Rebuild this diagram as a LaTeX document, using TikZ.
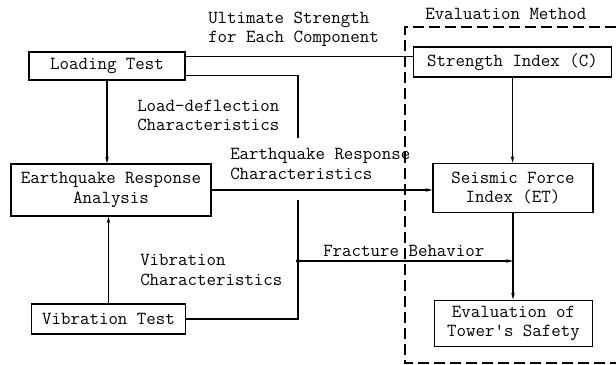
\documentclass[tikz,border=0pt]{standalone}
\usepackage{fontspec}
\usetikzlibrary{positioning, arrows.meta, calc}

\tikzset{
  block/.style={draw, line width=0.9pt, rectangle, align=center, inner sep=0pt},
  flow/.style={line width=0.9pt},
  flowarrow/.style={flow, -{Stealth[length=5pt,width=2.6pt]}},
  lbl/.style={anchor=west, align=left, inner sep=0pt}
}

\begin{document}
\begin{tikzpicture}[x=0.75pt, y=-0.75pt, font=\ttfamily\fontsize{13.8}{14.3}\selectfont]
            \useasboundingbox (0,0) rectangle (616,364);

            % Blocks of the left column (tests and analysis)
            \node[block, minimum width=117pt, minimum height=21pt] (loading) at (107,66) {Loading Test};
            \node[block, minimum width=150pt, minimum height=39pt] (earthquake) at (111,190) {Earthquake Response\\Analysis};
            \node[block, minimum width=115pt, minimum height=22.5pt] (vibration) at (108.5,319) {Vibration Test};

            % Blocks of the evaluation method
            \node[block, minimum width=148pt, minimum height=22.5pt] (strength) at (512.5,62) {Strength Index (C)};
            \node[block, minimum width=120pt, minimum height=37pt] (seismic) at (513,188) {Seismic Force\\Index (ET)};
            \node[block, minimum width=118pt, minimum height=35pt] (evaluation) at (513.5,323.5) {Evaluation of\\Tower's Safety};

            % Evaluation method frame
            \draw[flow, dash pattern=on 8pt off 4pt] (616,27) -- (405,27) -- (405,363) -- (616,363);
            \node[lbl] (evalmethod) at (425,14) {Evaluation Method};

            % Labels
            \node[lbl] (ultimate) at (208,29) {Ultimate Strength\\for Each Component};
            \node[lbl] (loaddefl) at (137,115) {Load-deflection\\Characteristics};
            \node[lbl] (eqchar) at (230,164) {Earthquake Response\\Characteristics};
            \node[lbl] (vibchar) at (140,270) {Vibration\\Characteristics};
            \node[lbl] (fracture) at (323,251) {Fracture Behavior};

            % Connectors
            \coordinate (ldend) at (298,138);
            \coordinate (vbend) at (298,200);
            \coordinate (fb) at (298,261);
            \draw[flow] (loading.north east) ++(0,5) coordinate (lu) -- (lu -| strength.west);
            \draw[flow] (loading.south east) ++(0,-5) coordinate (ll) -| (ldend);
            \draw[flow] (vibration.east) -| (vbend);
            \draw[flowarrow] (loading.south) -- (loading.south |- earthquake.north);
            \draw[flowarrow] (vibration.north) -- (vibration.north |- earthquake.south);
            \draw[flowarrow] (earthquake.east) -- (seismic.west |- earthquake.east);
            \draw[flowarrow] (strength.south) -- (strength.south |- seismic.north);
            \draw[flowarrow] (seismic.south) -- (seismic.south |- evaluation.north);
            \fill (fb) circle (1.5pt);
            \draw[flowarrow] (fb) -- (fb -| seismic.south);
        \end{tikzpicture}
\end{document}
